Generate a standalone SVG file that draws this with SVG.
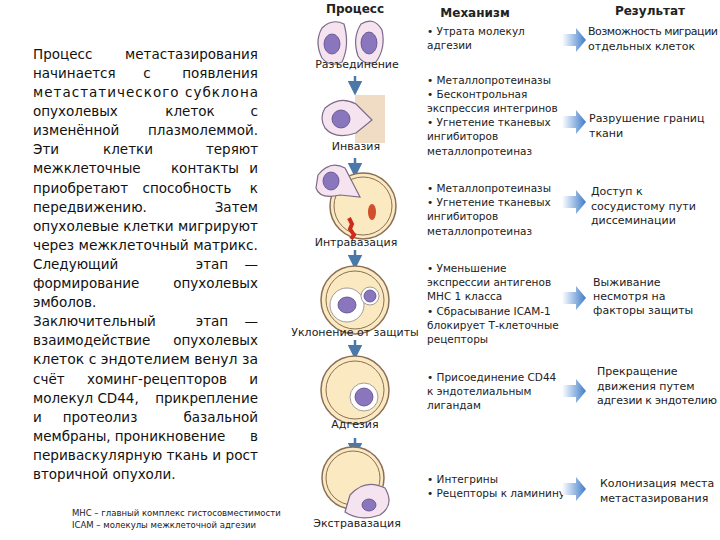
<svg xmlns="http://www.w3.org/2000/svg" width="720" height="540" viewBox="0 0 720 540">
<style>
.l{font-family:"DejaVu Sans",Verdana,sans-serif;font-size:13.5px;fill:#111}
.e{text-anchor:end}
.c{text-anchor:middle}
.h{font-family:"DejaVu Sans",sans-serif;font-size:12px;font-weight:bold;fill:#222}
.s{font-family:"DejaVu Sans",sans-serif;font-size:11px;fill:#222}
.m{font-family:"DejaVu Sans",sans-serif;font-size:10.5px;fill:#222}
.f{font-family:"DejaVu Sans",sans-serif;font-size:8.5px;fill:#222}
.ves{fill:#fbe9c2;stroke:#8a6f55;stroke-width:1.5}
.ves2{fill:none;stroke:#8a6f55;stroke-width:1}
.cell{fill:#f5e4ef;stroke:#7b6a88;stroke-width:1.2}
.nuc{fill:#8a76bd;stroke:#5a4a8a;stroke-width:0.8}
.wh{fill:#fff;stroke:#888;stroke-width:0.8}
</style>
<defs>
<linearGradient id="g" x1="0" x2="1"><stop offset="0" stop-color="#fff"/><stop offset="1" stop-color="#3d7cc9"/></linearGradient>
<marker id="dn" markerWidth="6" markerHeight="6" refX="3" refY="3" orient="auto"><path d="M0,0L6,3L0,6z" fill="#4a78a8"/></marker>
<path id="ra" d="M0,-6H14V-12L24,0L14,12V6H0z" fill="url(#g)"/>
</defs>
<g id="text-left" class="l">
<text x="33" y="59">Процесс</text><text class="e" x="258" y="59">метастазирования</text>
<text x="33" y="78">начинается</text><text class="c" x="147" y="78">с</text><text class="e" x="258" y="78">появления</text>
<text x="33" y="97" textLength="225" lengthAdjust="spacing">метастатического субклона</text>
<text x="33" y="116">опухолевых</text><text class="c" x="190" y="116">клеток</text><text class="e" x="258" y="116">с</text>
<text x="33" y="135">изменённой</text><text class="e" x="258" y="135">плазмолеммой.</text>
<text x="33" y="154">Эти</text><text class="c" x="128" y="154">клетки</text><text class="e" x="258" y="154">теряют</text>
<text x="33" y="173">межклеточные</text><text class="c" x="205" y="173">контакты</text><text class="e" x="258" y="173">и</text>
<text x="33" y="193">приобретают</text><text class="c" x="187" y="193">способность</text><text class="e" x="258" y="193">к</text>
<text x="33" y="212">передвижению.</text><text class="e" x="258" y="212">Затем</text>
<text x="33" y="231" textLength="225" lengthAdjust="spacingAndGlyphs">опухолевые клетки мигрируют</text>
<text x="33" y="250" textLength="225" lengthAdjust="spacingAndGlyphs">через межклеточный матрикс.</text>
<text x="33" y="269">Следующий</text><text class="c" x="212" y="269">этап</text><text class="e" x="258" y="269">—</text>
<text x="33" y="288">формирование</text><text class="e" x="258" y="288">опухолевых</text>
<text x="33" y="307">эмболов.</text>
<text x="33" y="326">Заключительный</text><text class="c" x="212" y="326">этап</text><text class="e" x="258" y="326">—</text>
<text x="33" y="345">взаимодействие</text><text class="e" x="258" y="345">опухолевых</text>
<text x="33" y="364" textLength="225" lengthAdjust="spacingAndGlyphs">клеток с эндотелием венул за</text>
<text x="33" y="384">счёт</text><text class="c" x="157" y="384">хоминг-рецепторов</text><text class="e" x="258" y="384">и</text>
<text x="33" y="403">молекул CD44,</text><text class="e" x="258" y="403">прикрепление</text>
<text x="33" y="422">и</text><text class="c" x="100" y="422">протеолиз</text><text class="e" x="258" y="422">базальной</text>
<text x="33" y="441">мембраны,</text><text class="c" x="170" y="441">проникновение</text><text class="e" x="258" y="441">в</text>
<text x="33" y="460" textLength="225" lengthAdjust="spacingAndGlyphs">периваскулярную ткань и рост</text>
<text x="33" y="479">вторичной опухоли.</text>
<text class="f" x="72" y="516">MHC – главный комплекс гистосовместимости</text>
<text class="f" x="72" y="528">ICAM – молекулы межклеточной адгезии</text>
</g>
<g id="headers">
<text class="h" x="355" y="13" text-anchor="middle">Процесс</text>
<text class="h" x="475" y="17" text-anchor="middle">Механизм</text>
<text class="h" x="650" y="15" text-anchor="middle">Результат</text>
</g>
<g id="connectors" stroke="#4a78a8" stroke-width="2.5">
<line x1="355" y1="76" x2="355" y2="88" marker-end="url(#dn)"/>
<line x1="355" y1="158" x2="355" y2="170" marker-end="url(#dn)"/>
<line x1="355" y1="250" x2="355" y2="262" marker-end="url(#dn)"/>
<line x1="355" y1="340" x2="355" y2="352" marker-end="url(#dn)"/>
<line x1="355" y1="438" x2="355" y2="450" marker-end="url(#dn)"/>
</g>
<g id="stage1">
<path class="cell" d="M322,28 Q332,18 344,24 Q350,45 342,62 Q330,68 322,58 Q314,42 322,28z"/>
<ellipse class="nuc" cx="332" cy="44" rx="8" ry="10"/>
<path class="cell" d="M361,24 Q374,16 382,30 Q386,48 376,62 Q364,66 358,56 Q352,38 361,24z"/>
<ellipse class="nuc" cx="369" cy="43" rx="8" ry="11"/>
<text class="s" x="357" y="68" text-anchor="middle">Разъединение</text>
</g>
<g id="stage2">
<rect x="355" y="95" width="30" height="48" fill="#f0dcc4"/>
<path class="cell" d="M325,108 Q340,95 356,104 L372,120 L356,133 Q335,140 325,128 Q319,118 325,108z"/>
<ellipse class="nuc" cx="341" cy="119" rx="9" ry="9"/>
<text class="s" x="356" y="150" text-anchor="middle">Инвазия</text>
</g>
<g id="stage3">
<circle class="ves" cx="363" cy="206" r="33"/>
<circle class="ves2" cx="363" cy="206" r="29"/>
<path class="cell" d="M318,175 Q330,160 345,168 L360,197 L340,195 Q320,200 316,188z"/>
<ellipse class="nuc" cx="331" cy="181" rx="8" ry="9"/>
<ellipse cx="372" cy="212" rx="4" ry="8" fill="#d0502a"/>
<path d="M349,218 l3,6 l-2,5 l4,6 l-3,4" stroke="#d02a1a" stroke-width="4" fill="none"/>
<text class="s" x="356" y="246" text-anchor="middle">Интравазация</text>
</g>
<g id="stage4">
<circle class="ves" cx="355" cy="300" r="34"/>
<circle class="ves2" cx="355" cy="300" r="29"/>
<circle class="wh" cx="347" cy="305" r="17"/>
<ellipse class="nuc" cx="347" cy="305" rx="9" ry="8"/>
<circle class="wh" cx="370" cy="296" r="9"/>
<circle class="nuc" cx="370" cy="296" r="6"/>
<text class="s" x="355" y="336" text-anchor="middle">Уклонение от защиты</text>
</g>
<g id="stage5">
<circle class="ves" cx="355" cy="390" r="34"/>
<circle class="ves2" cx="355" cy="390" r="29"/>
<circle class="wh" cx="364" cy="397" r="14"/>
<ellipse class="nuc" cx="364" cy="397" rx="9" ry="9"/>
<text class="s" x="355" y="428" text-anchor="middle">Адгезия</text>
</g>
<g id="stage6">
<circle class="ves" cx="353" cy="478" r="31"/>
<circle class="ves2" cx="353" cy="478" r="27"/>
<path class="cell" d="M350,495 Q365,478 385,488 Q395,505 380,515 Q360,522 345,512z"/>
<ellipse class="nuc" cx="369" cy="505" rx="7" ry="6"/>
<text class="s" x="357" y="527" text-anchor="middle">Экстравазация</text>
</g>
<g id="mechanisms">
<text class="m"><tspan x="427" y="35">• Утрата молекул</tspan><tspan x="427" y="49">адгезии</tspan></text>
<text class="m"><tspan x="427" y="84">• Металлопротеиназы</tspan><tspan x="427" y="98">• Бесконтрольная</tspan><tspan x="427" y="112">экспрессия интегринов</tspan><tspan x="427" y="126">• Угнетение тканевых</tspan><tspan x="427" y="140">ингибиторов</tspan><tspan x="427" y="155">металлопротеиназ</tspan></text>
<text class="m"><tspan x="427" y="192">• Металлопротеиназы</tspan><tspan x="427" y="206">• Угнетение тканевых</tspan><tspan x="427" y="220">ингибиторов</tspan><tspan x="427" y="235">металлопротеиназ</tspan></text>
<text class="m"><tspan x="427" y="272">• Уменьшение</tspan><tspan x="427" y="286">экспрессии антигенов</tspan><tspan x="427" y="300">MHC 1 класса</tspan><tspan x="427" y="315">• Сбрасывание ICAM-1</tspan><tspan x="427" y="329">блокирует Т-клеточные</tspan><tspan x="427" y="343">рецепторы</tspan></text>
<text class="m"><tspan x="427" y="381">• Присоединение CD44</tspan><tspan x="427" y="395">к эндотелиальным</tspan><tspan x="427" y="409">лигандам</tspan></text>
<text class="m"><tspan x="427" y="483">• Интегрины</tspan><tspan x="427" y="497">• Рецепторы к ламинину</tspan></text>
</g>
<g id="arrows">
<use href="#ra" x="562" y="40"/>
<use href="#ra" x="562" y="122"/>
<use href="#ra" x="562" y="202"/>
<use href="#ra" x="562" y="298"/>
<use href="#ra" x="562" y="391"/>
<use href="#ra" x="562" y="489"/>
</g>
<g id="results">
<text class="s"><tspan x="588" y="35" textLength="130">Возможность миграции</tspan><tspan x="588" y="50">отдельных клеток</tspan></text>
<text class="s"><tspan x="589" y="122">Разрушение границ</tspan><tspan x="589" y="137">ткани</tspan></text>
<text class="s"><tspan x="591" y="195">Доступ к</tspan><tspan x="591" y="210">сосудистому пути</tspan><tspan x="591" y="224">диссеминации</tspan></text>
<text class="s"><tspan x="593" y="286">Выживание</tspan><tspan x="593" y="300">несмотря на</tspan><tspan x="593" y="314">факторы защиты</tspan></text>
<text class="s"><tspan x="597" y="375">Прекращение</tspan><tspan x="597" y="390">движения путем</tspan><tspan x="597" y="404" textLength="120">адгезии к эндотелию</tspan></text>
<text class="s"><tspan x="600" y="487">Колонизация места</tspan><tspan x="600" y="502">метастазирования</tspan></text>
</g>
</svg>
